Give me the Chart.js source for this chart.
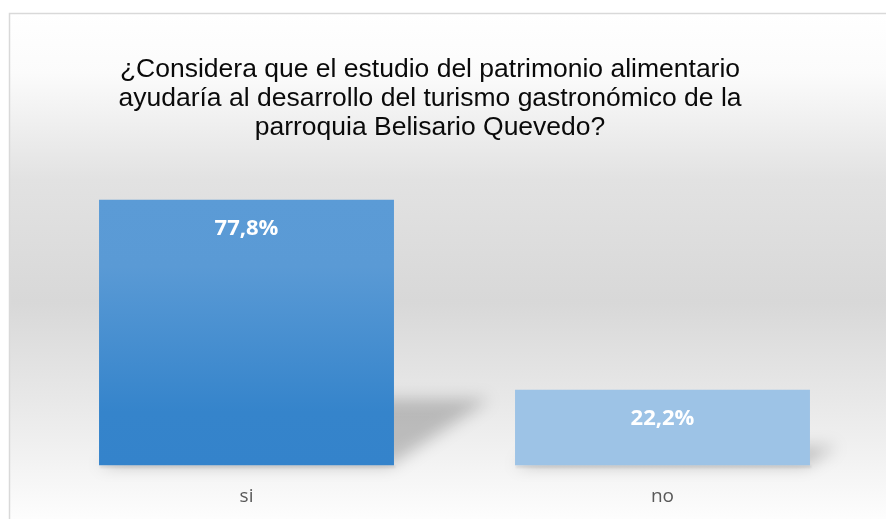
<!DOCTYPE html>
<html>
<head>
<meta charset="utf-8">
<script src="https://cdn.jsdelivr.net/npm/chart.js@4/dist/chart.umd.min.js"></script>
<style>
  html, body { margin: 0; padding: 0; background: #fff; }
  #wrap { width: 886px; height: 519px; position: relative; }
</style>
</head>
<body>
<div id="wrap"><canvas id="chart"></canvas></div>
<script>
const categories = ["si", "no"];
const percentages = [77.8, 22.2];
const titleLines = [
  "¿Considera que el estudio del patrimonio alimentario",
  "ayudaría al desarrollo del turismo gastronómico de la",
  "parroquia Belisario Quevedo?",
];

const formatPercent = (v) => v.toFixed(1).replace(".", ",") + "%";

// light grey panel with a soft vertical gradient and a thin frame
const panelBackground = {
  id: "panelBackground",
  beforeDraw(chart) {
    const { ctx, width, height } = chart;
    ctx.save();
    ctx.fillStyle = "#ffffff";
    ctx.fillRect(0, 0, width, height);
    const top = 13;
    const g = ctx.createLinearGradient(0, top, 0, height);
    g.addColorStop(0, "#ffffff");
    g.addColorStop(0.12, "#fbfbfb");
    g.addColorStop(0.33, "#e2e2e2");
    g.addColorStop(0.57, "#d8d8d8");
    g.addColorStop(0.74, "#e6e6e6");
    g.addColorStop(0.88, "#f2f2f2");
    g.addColorStop(1, "#fdfdfd");
    ctx.fillStyle = g;
    ctx.fillRect(10, top, width, height);
    ctx.strokeStyle = "#d9d9d9";
    ctx.lineWidth = 1.5;
    ctx.beginPath();
    ctx.moveTo(9.5, height + 2);
    ctx.lineTo(9.5, top + 0.5);
    ctx.lineTo(width + 2, top + 0.5);
    ctx.stroke();
    ctx.restore();
  },
};

// perspective shadow cast by each bar onto the floor behind it
const barShadows = {
  id: "barShadows",
  beforeDatasetsDraw(chart) {
    const { ctx } = chart;
    const meta = chart.getDatasetMeta(0);
    ctx.save();
    meta.data.forEach((bar) => {
      const x0 = bar.x - bar.width / 2;
      const x1 = bar.x + bar.width / 2;
      const h = bar.base - bar.y;
      const rise = h * 0.25;
      const dx = h * 0.36;
      ctx.filter = "blur(8px)";
      ctx.fillStyle = "rgba(0,0,0,0.21)";
      ctx.beginPath();
      ctx.moveTo(x0, bar.base);
      ctx.lineTo(x1 - 4, bar.base);
      ctx.lineTo(x1 + dx, bar.base - rise);
      ctx.lineTo(x0 + dx, bar.base - rise);
      ctx.closePath();
      ctx.fill();
      ctx.filter = "blur(1px)";
      ctx.fillStyle = "rgba(0,0,0,0.12)";
      ctx.fillRect(x0 + 1, bar.base, bar.width, 2);
    });
    ctx.restore();
  },
};

// value labels inside the bar tops, and the chart heading
const barLabels = {
  id: "barLabels",
  afterDatasetsDraw(chart) {
    const { ctx } = chart;
    const meta = chart.getDatasetMeta(0);
    ctx.save();
    ctx.fillStyle = "#ffffff";
    ctx.font = 'bold 22px "Open Sans", sans-serif';
    ctx.textAlign = "center";
    ctx.textBaseline = "middle";
    meta.data.forEach((bar, i) => {
      ctx.fillText(formatPercent(percentages[i]), bar.x, bar.y + 29);
    });

    ctx.fillStyle = "#0a0a0a";
    ctx.font = '26.5px "Liberation Sans", Arial, sans-serif';
    titleLines.forEach((line, i) => {
      ctx.fillText(line, 430, 70 + i * 29);
    });
    ctx.restore();
  },
};

const chartConfig = {
  type: "bar",
  data: {
    labels: categories,
    datasets: [
      {
        data: percentages,
        backgroundColor(c) {
          if (c.dataIndex === 1) return "#9dc3e6";
          const { chart } = c;
          if (!chart.chartArea) return "#5b9bd5";
          const y = chart.scales.y;
          const g = chart.ctx.createLinearGradient(
            0, y.getPixelForValue(c.raw), 0, y.getPixelForValue(0)
          );
          g.addColorStop(0, "#5b9bd6");
          g.addColorStop(0.25, "#5a9ad5");
          g.addColorStop(0.8, "#3584cb");
          g.addColorStop(1, "#3483cb");
          return g;
        },
        borderWidth: 0,
        categoryPercentage: 1,
        barPercentage: 0.709,
      },
    ],
  },
  options: {
    responsive: true,
    maintainAspectRatio: false,
    animation: false,
    layout: {
      padding: { top: 158, left: 38.5, right: 15.5, bottom: 0 },
    },
    plugins: {
      legend: { display: false },
      title: { display: false },
      tooltip: { enabled: false },
    },
    scales: {
      x: {
        grid: { display: false, drawTicks: false },
        border: { display: false },
        ticks: {
          color: "#595959",
          padding: 20,
          font: { family: '"Open Sans", sans-serif', size: 19 },
        },
        afterFit(scale) {
          scale.height = 53.5;
        },
      },
      y: {
        display: false,
        min: 0,
        max: 90,
      },
    },
  },
  plugins: [panelBackground, barShadows, barLabels],
};

window.addEventListener("DOMContentLoaded", () => {
  new Chart(document.getElementById("chart"), chartConfig);
});
</script>
</body>
</html>
